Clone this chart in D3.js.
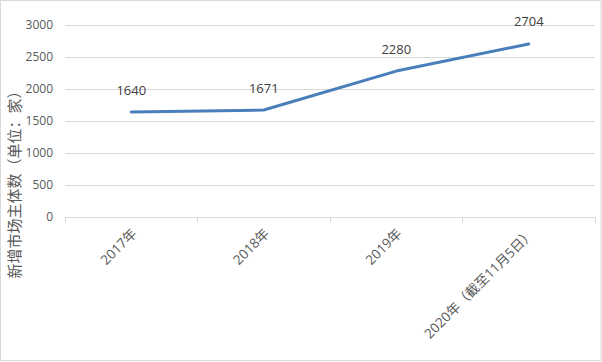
<!DOCTYPE html>
<html>
<head>
<meta charset="utf-8">
<script src="https://cdn.jsdelivr.net/npm/d3@7"></script>
<style>
  body { margin: 0; background: #fff; }
  text { font-family: "Open Sans", "Noto Sans CJK SC", sans-serif; }
</style>
</head>
<body>
<div id="chart-area"></div>
<script>
(function () {
  // Chart data
  const categories = ["2017年", "2018年", "2019年", "2020年（截至11月5日）"];
  const values = [1640, 1671, 2280, 2704];
  const yTicks = [0, 500, 1000, 1500, 2000, 2500, 3000];
  const yTitle = "新增市场主体数（单位：家）";

  const W = 602, H = 362;
  const plot = { left: 65, right: 595, top: 25, bottom: 217 };

  const svg = d3.select("#chart-area")
    .append("svg")
    .attr("width", W)
    .attr("height", H);

  // outer frame
  svg.append("rect")
    .attr("x", 0.5).attr("y", 0.5)
    .attr("width", W - 1.5).attr("height", H - 2)
    .attr("fill", "#fff")
    .attr("stroke", "#d9d9d9");

  const x = d3.scaleBand()
    .domain(categories)
    .range([plot.left, plot.right]);

  const y = d3.scaleLinear()
    .domain([0, 3000])
    .range([plot.bottom, plot.top]);

  // horizontal gridlines + y labels
  svg.append("g")
    .attr("transform", `translate(${plot.left},0)`)
    .call(d3.axisLeft(y).tickValues(yTicks).tickFormat(d3.format("d"))
      .tickSize(-(plot.right - plot.left)).tickPadding(12))
    .call((g) => g.select(".domain").remove())
    .call((g) => g.selectAll("line").attr("stroke", "#d9d9d9").attr("shape-rendering", "crispEdges"))
    .call((g) => g.selectAll("text").attr("fill", "#595959").attr("font-size", 12)
      .attr("font-family", "Open Sans"));

  // x axis with boundary ticks
  const xAxis = svg.append("g").attr("transform", `translate(0,${plot.bottom})`);
  xAxis.append("line")
    .attr("x1", plot.left).attr("x2", plot.right)
    .attr("stroke", "#d9d9d9").attr("shape-rendering", "crispEdges");
  const bounds = categories.map((c) => x(c)).concat([plot.right]);
  xAxis.selectAll(".bt")
    .data(bounds)
    .enter()
    .append("line")
    .attr("x1", (d) => d).attr("x2", (d) => d)
    .attr("y1", 0).attr("y2", 6)
    .attr("stroke", "#d9d9d9").attr("shape-rendering", "crispEdges");

  xAxis.selectAll(".xl")
    .data(categories)
    .enter()
    .append("text")
    .attr("transform", (d) => `translate(${x(d) + x.bandwidth() / 2 + 3},${14}) rotate(-45)`)
    .attr("text-anchor", "end")
    .attr("dy", "0.35em")
    .attr("fill", "#595959")
    .attr("font-size", 13.5)
    .text((d) => d);

  // y axis title
  svg.append("text")
    .attr("transform", `translate(15,181) rotate(-90)`)
    .attr("text-anchor", "middle")
    .attr("dy", "0.35em")
    .attr("fill", "#595959")
    .attr("font-size", 15)
    .attr("font-family", "Noto Sans CJK SC")
    .text(yTitle);

  // line
  const line = d3.line()
    .x((d, i) => x(categories[i]) + x.bandwidth() / 2)
    .y((d) => y(d));

  svg.append("path")
    .datum(values)
    .attr("fill", "none")
    .attr("stroke", "#4a7ebb")
    .attr("stroke-width", 3)
    .attr("stroke-linecap", "round")
    .attr("stroke-linejoin", "round")
    .attr("d", line);

  // data labels
  svg.selectAll(".dl")
    .data(values)
    .enter()
    .append("text")
    .attr("x", (d, i) => x(categories[i]) + x.bandwidth() / 2)
    .attr("y", (d) => y(d) - 22)
    .attr("dy", "0.35em")
    .attr("text-anchor", "middle")
    .attr("fill", "#404040")
    .attr("font-size", 13)
    .text((d) => d);
})();
</script>
</body>
</html>
